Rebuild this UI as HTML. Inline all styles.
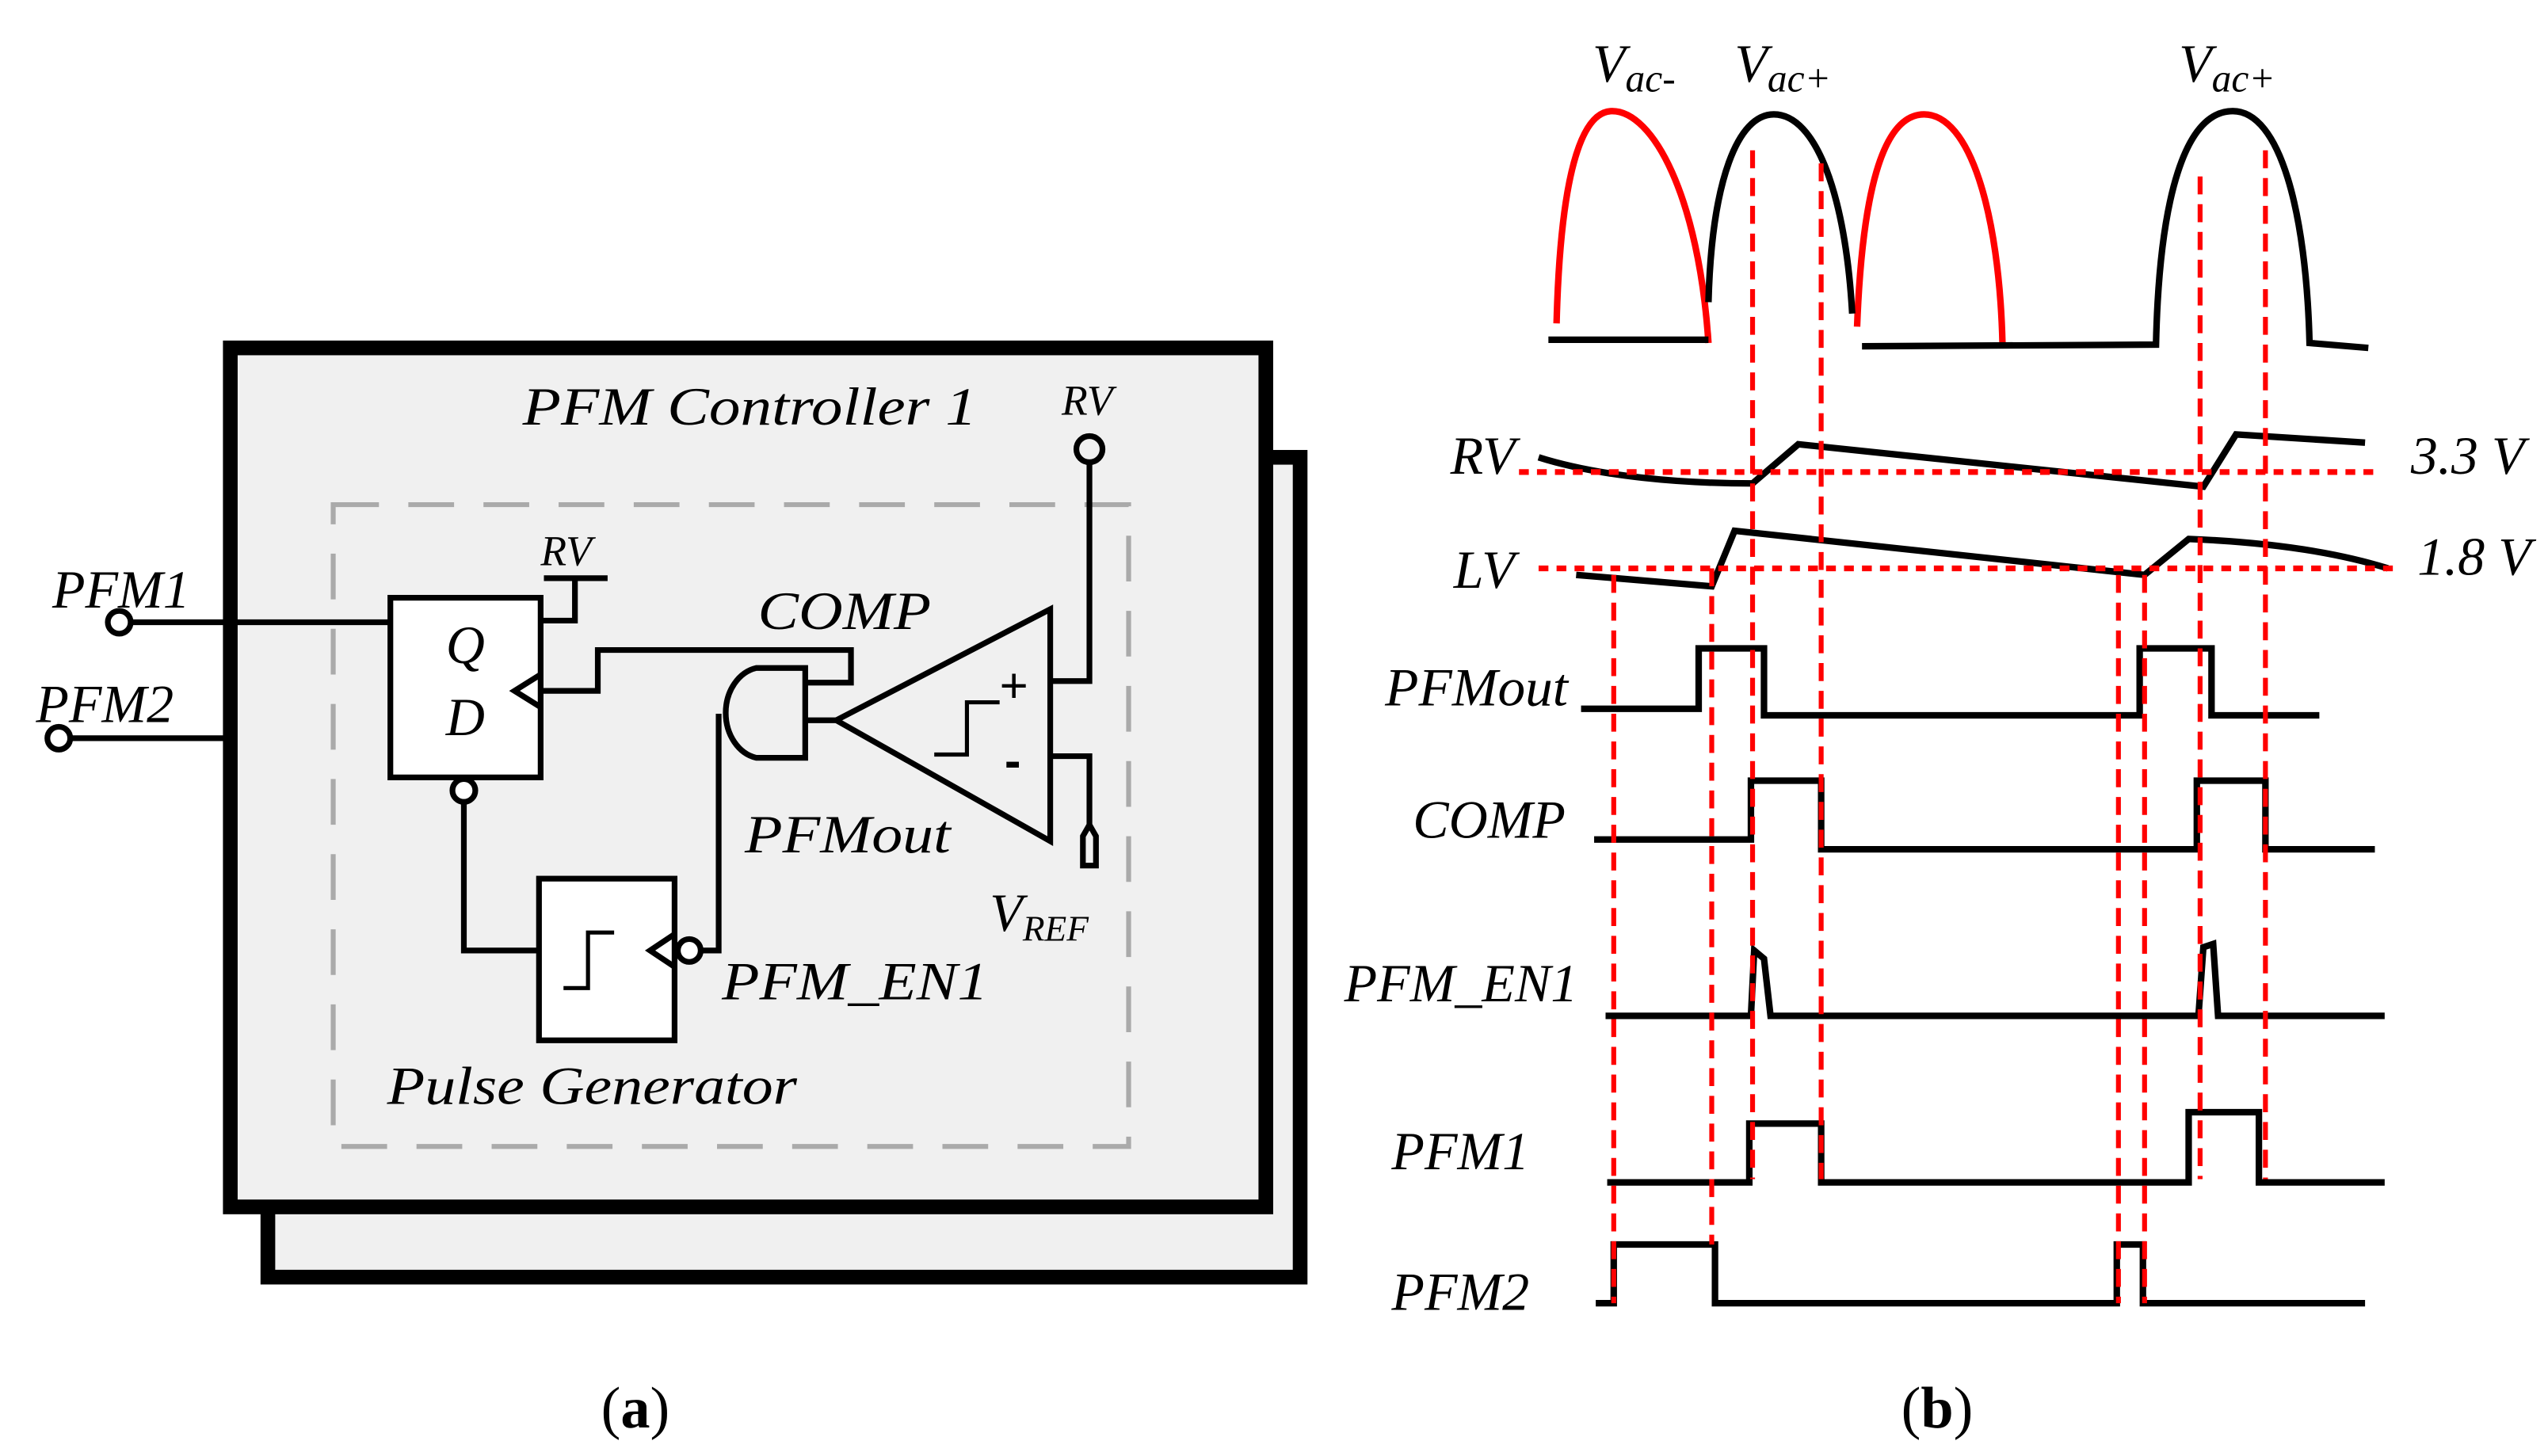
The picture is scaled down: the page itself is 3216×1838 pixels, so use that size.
<!DOCTYPE html>
<html><head><meta charset="utf-8"><style>html,body{margin:0;padding:0;background:#fff}svg{display:block}</style></head>
<body>
<svg width="3216" height="1838" viewBox="0 0 1560 891.5" xmlns="http://www.w3.org/2000/svg" font-family="Liberation Serif, serif" font-style="italic">
<rect x="164" y="280" width="632" height="502" fill="#f0f0f0" stroke="#000" stroke-width="9"/>
<rect x="141" y="213" width="634" height="526" fill="#f0f0f0" stroke="#000" stroke-width="9"/>
<rect x="204" y="309" width="487" height="393" fill="none" stroke="#aaa" stroke-width="3" stroke-dasharray="28,18"/>
<g stroke="#000" stroke-width="3.5" fill="none">
<circle cx="667" cy="275" r="8"/>
<polyline points="667,283 667,417 643,417"/>
<polyline points="643,463 667,463 667,505"/>
<path d="M663,530 L663,512 L667,505 L671,512 L671,530 Z"/>
<rect x="239" y="366" width="92" height="110" fill="#fff"/>
<polyline points="333,354 372,354"/>
<polyline points="352,354 352,380 331,380"/>
<circle cx="73" cy="381" r="7"/>
<line x1="80" y1="381" x2="239" y2="381"/>
<circle cx="36" cy="452" r="7"/>
<line x1="43" y1="452" x2="141" y2="452"/>
<polyline points="331,413 315,423 331,433"/>
<polyline points="331,423 366,423 366,398 521,398 521,418 493,418"/>
<path d="M493,409 L463,409 A23,28 0 0 0 463,464 L493,464 Z" fill="#f0f0f0"/>
<line x1="493" y1="441" x2="512" y2="441"/>
<path d="M512,441 L643,373 L643,515 Z" fill="#f0f0f0"/>
<polyline points="572,462 592,462 592,430 612,430" stroke-width="2.5"/>
<path d="M440,437 L440,582 L414,582"/>
<rect x="330" y="538" width="83" height="99" fill="#fff"/>
<polyline points="345,605 360,605 360,571 376,571" stroke-width="2.5"/>
<polyline points="413,572 398,582 413,592"/>
<circle cx="422" cy="582" r="7" fill="#fff"/>
<circle cx="284" cy="484" r="7" fill="#fff"/>
<polyline points="284,491 284,582 330,582"/>
</g>
<g font-size="33">
<text x="320" y="260" textLength="278" lengthAdjust="spacingAndGlyphs">PFM Controller 1</text>
<text x="464" y="385" textLength="106" lengthAdjust="spacingAndGlyphs">COMP</text>
<text x="456" y="522" textLength="126" lengthAdjust="spacingAndGlyphs">PFMout</text>
<text x="442" y="612" textLength="163" lengthAdjust="spacingAndGlyphs">PFM_EN1</text>
<text x="237" y="676" textLength="251" lengthAdjust="spacingAndGlyphs">Pulse Generator</text>
<text x="32" y="372">PFM1</text>
<text x="22" y="442">PFM2</text>
<text x="606" y="570">V<tspan font-size="22" dy="6">REF</tspan></text>
<text x="273" y="406">Q</text>
<text x="273" y="450">D</text>
</g>
<text x="650" y="254" font-size="26">RV</text>
<text x="331" y="346" font-size="26">RV</text>
<text x="612" y="430" font-size="30" font-style="normal" font-family="Liberation Sans, sans-serif">+</text>
<text x="615" y="476" font-size="30" font-style="normal" font-weight="bold" font-family="Liberation Sans, sans-serif">-</text>
<g font-size="33">
<text x="975" y="50">V<tspan font-size="24" dy="6">ac-</tspan></text>
<text x="1062" y="50">V<tspan font-size="24" dy="6">ac+</tspan></text>
<text x="1334" y="50">V<tspan font-size="24" dy="6">ac+</tspan></text>
<text x="888" y="290">RV</text>
<text x="890" y="360">LV</text>
<text x="1476" y="290">3.3 V</text>
<text x="1480" y="352">1.8 V</text>
<text x="848" y="432" textLength="112" lengthAdjust="spacingAndGlyphs">PFMout</text>
<text x="865" y="513">COMP</text>
<text x="823" y="613">PFM_EN1</text>
<text x="852" y="716">PFM1</text>
<text x="852" y="802">PFM2</text>
</g>
<g fill="none" stroke-width="4" stroke-linejoin="miter">
<path d="M953,198 C955,120 965,68 987,68 C1012,68 1040,120 1046,210" stroke="#f00"/>
<path d="M1137,200 C1140,120 1152,70 1178,70 C1206,70 1224,130 1226,210" stroke="#f00"/>
<path d="M948,208 L1046,208" stroke="#000"/>
<path d="M1046,185 C1048,110 1064,70 1086,70 C1112,70 1130,120 1134,192" stroke="#000"/>
<path d="M1140,212 L1320,211 C1322,120 1338,68 1367,68 C1396,68 1412,130 1414,210 L1450,213" stroke="#000"/>
<path d="M942,280 C980,292 1030,296 1073,296 L1101,272 L1349,298 L1369,266 L1448,271" stroke="#000"/>
<path d="M965,352 L1048,359 L1062,325 L1313,352 L1340,330 C1390,332 1430,338 1462,348" stroke="#000"/>
<polyline points="968,434 1040,434 1040,397 1080,397 1080,438 1310,438 1310,397 1354,397 1354,438 1420,438" stroke="#000"/>
<polyline points="976,514 1072,514 1072,478 1115,478 1115,520 1345,520 1345,478 1387,478 1387,520 1454,520" stroke="#000"/>
<polyline points="983,622 1072,622 1074,582 1080,587 1084,622 1346,622 1349,580 1355,578 1358,622 1460,622" stroke="#000"/>
<polyline points="984,724 1071,724 1071,688 1115,688 1115,724 1340,724 1340,681 1383,681 1383,724 1460,724" stroke="#000"/>
<polyline points="977,798 988,798 988,762 1050,762 1050,798 1296,798 1296,762 1312,762 1312,798 1448,798" stroke="#000"/>
</g>
<g stroke="#f00" stroke-width="3.5" stroke-dasharray="6,5" fill="none">
<line x1="930" y1="289" x2="1455" y2="289"/>
<line x1="942" y1="348" x2="1470" y2="348"/>
</g>
<g stroke="#f00" stroke-width="3" stroke-dasharray="11,6" fill="none">
<line x1="988" y1="352" x2="988" y2="798"/>
<line x1="1048" y1="348" x2="1048" y2="762"/>
<line x1="1073" y1="92" x2="1073" y2="722"/>
<line x1="1115" y1="100" x2="1115" y2="722"/>
<line x1="1347" y1="108" x2="1347" y2="722"/>
<line x1="1387" y1="92" x2="1387" y2="722"/>
<line x1="1297" y1="352" x2="1297" y2="798"/>
<line x1="1313" y1="352" x2="1313" y2="798"/>
</g>
<g font-size="36" font-style="normal">
<text x="368" y="874">(<tspan font-weight="bold">a</tspan>)</text>
<text x="1164" y="874">(<tspan font-weight="bold">b</tspan>)</text>
</g>
</svg>
</body></html>
